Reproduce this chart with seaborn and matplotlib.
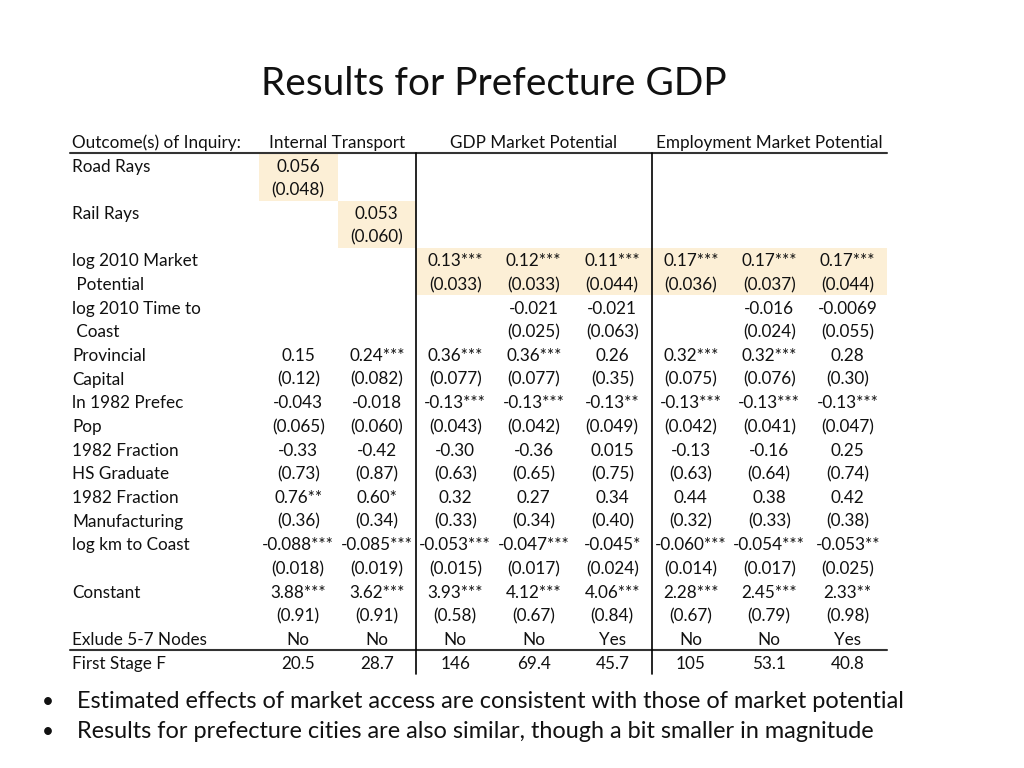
import matplotlib
matplotlib.use("Agg")
import matplotlib.pyplot as plt
import numpy as np
import seaborn as sns
from matplotlib.colors import ListedColormap

# Table contents
header_label = "Outcome(s) of Inquiry:"
group_names = ["Internal Transport", "GDP Market Potential", "Employment Market Potential"]
group_spans = [(0, 2), (2, 5), (5, 8)]

row_labels = ["Road Rays", "", "Rail Rays", "", "log 2010 Market", " Potential",
              "log 2010 Time to", " Coast", "Provincial", "Capital", "ln 1982 Prefec", "Pop",
              "1982 Fraction", "HS Graduate", "1982 Fraction", "Manufacturing",
              "log km to Coast", "", "Constant", "", "Exlude 5-7 Nodes", "First Stage F"]

road_rays = ["0.056", "(0.048)", "", "", "", "", "", "", "0.15", "(0.12)", "-0.043", "(0.065)",
             "-0.33", "(0.73)", "0.76**", "(0.36)", "-0.088***", "(0.018)", "3.88***", "(0.91)", "No", "20.5"]
rail_rays = ["", "", "0.053", "(0.060)", "", "", "", "", "0.24***", "(0.082)", "-0.018", "(0.060)",
             "-0.42", "(0.87)", "0.60*", "(0.34)", "-0.085***", "(0.019)", "3.62***", "(0.91)", "No", "28.7"]
gdp_1 = ["", "", "", "", "0.13***", "(0.033)", "", "", "0.36***", "(0.077)", "-0.13***", "(0.043)",
         "-0.30", "(0.63)", "0.32", "(0.33)", "-0.053***", "(0.015)", "3.93***", "(0.58)", "No", "146"]
gdp_2 = ["", "", "", "", "0.12***", "(0.033)", "-0.021", "(0.025)", "0.36***", "(0.077)", "-0.13***", "(0.042)",
         "-0.36", "(0.65)", "0.27", "(0.34)", "-0.047***", "(0.017)", "4.12***", "(0.67)", "No", "69.4"]
gdp_3 = ["", "", "", "", "0.11***", "(0.044)", "-0.021", "(0.063)", "0.26", "(0.35)", "-0.13**", "(0.049)",
         "0.015", "(0.75)", "0.34", "(0.40)", "-0.045*", "(0.024)", "4.06***", "(0.84)", "Yes", "45.7"]
emp_1 = ["", "", "", "", "0.17***", "(0.036)", "", "", "0.32***", "(0.075)", "-0.13***", "(0.042)",
         "-0.13", "(0.63)", "0.44", "(0.32)", "-0.060***", "(0.014)", "2.28***", "(0.67)", "No", "105"]
emp_2 = ["", "", "", "", "0.17***", "(0.037)", "-0.016", "(0.024)", "0.32***", "(0.076)", "-0.13***", "(0.041)",
         "-0.16", "(0.64)", "0.38", "(0.33)", "-0.054***", "(0.017)", "2.45***", "(0.79)", "No", "53.1"]
emp_3 = ["", "", "", "", "0.17***", "(0.044)", "-0.0069", "(0.055)", "0.28", "(0.30)", "-0.13***", "(0.047)",
         "0.25", "(0.74)", "0.42", "(0.38)", "-0.053**", "(0.025)", "2.33**", "(0.98)", "Yes", "40.8"]

columns = [road_rays, rail_rays, gdp_1, gdp_2, gdp_3, emp_1, emp_2, emp_3]

# (row, column) cells with the key coefficient highlighted
highlight_cells = [(0, 0), (1, 0), (2, 1), (3, 1)] + [(r, c) for r in (4, 5) for c in range(2, 8)]

bullets = ["Estimated effects of market access are consistent with those of market potential",
           "Results for prefecture cities are also similar, though a bit smaller in magnitude"]

sns.set_style("white")
plt.rcParams["font.family"] = ["Lato", "DejaVu Sans"]

fig = plt.figure(figsize=(10.24, 7.68), dpi=100)
W, H = 1024, 768

# table grid: 8 columns from x=259 to 887, 22 rows from y=153 to 674
left, right, top, bottom = 259, 887, 153.2, 674
ax = fig.add_axes([left / W, 1 - bottom / H, (right - left) / W, (bottom - top) / H])

n_rows, n_cols = len(row_labels), len(columns)
hl = np.zeros((n_rows, n_cols))
for r, c in highlight_cells:
    hl[r, c] = 1
sns.heatmap(hl, mask=hl == 0, cmap=ListedColormap(["#FCEFD6"]), cbar=False,
            xticklabels=False, yticklabels=False, ax=ax)
ax.axis("off")

fs = 12.3
txt = "#111111"
col_w = (right - left) / n_cols
label_x = (72 - left) / col_w
line_x0 = (70 - left) / col_w
dy = 0.57  # text sits a touch below the cell middle

for i, lab in enumerate(row_labels):
    ax.text(label_x, i + dy, lab, ha="left", va="center", fontsize=fs, color=txt, clip_on=False)
for j, col in enumerate(columns):
    for i, val in enumerate(col):
        if val:
            ax.text(j + 0.5, i + dy, val, ha="center", va="center", fontsize=fs, color=txt, clip_on=False)

# header row
ax.text(label_x, -1 + dy, header_label, ha="left", va="center", fontsize=fs, color=txt, clip_on=False)
for name, (a, b) in zip(group_names, group_spans):
    ax.text((a + b) / 2, -1 + dy, name, ha="center", va="center", fontsize=fs, color=txt, clip_on=False)

ax.plot([line_x0, n_cols], [0, 0], color="#333333", lw=1.5, clip_on=False)
ax.plot([line_x0, n_cols], [21, 21], color="#333333", lw=1.5, clip_on=False)
for x in (2, 5):
    ax.plot([x, x], [0, n_rows], color="black", lw=1.2, clip_on=False)

fig.text(494 / W, 1 - 84 / H, "Results for Prefecture GDP", ha="center", va="center",
         fontsize=28, color=txt)
for k, b in enumerate(bullets):
    y = 1 - (702 + 30 * k) / H
    fig.text(48 / W, y, "\u2022", ha="center", va="center", fontsize=15, color=txt)
    fig.text(77 / W, y, b, ha="left", va="center", fontsize=16.9, color=txt)

fig.savefig("out.png", dpi=100, facecolor="white")
